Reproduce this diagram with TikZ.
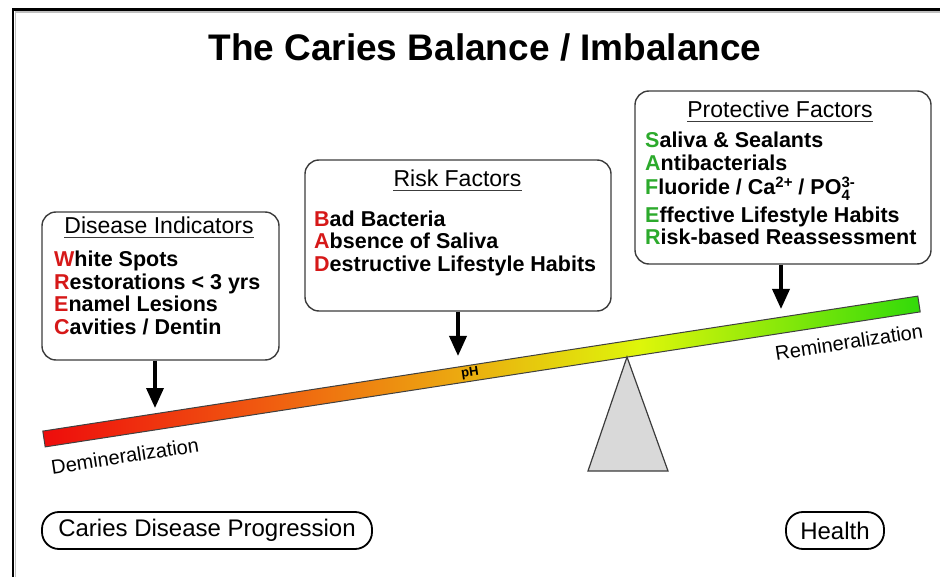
\documentclass[tikz,border=0pt]{standalone}
\usepackage{fontspec}
\setmainfont{Liberation Sans}
\usetikzlibrary{arrows.meta,calc}
\definecolor{redL}{RGB}{214,24,24}
\definecolor{grnL}{RGB}{44,170,44}
\definecolor{boxgray}{RGB}{60,60,60}
\definecolor{bA}{RGB}{238,12,12}
\definecolor{bB}{RGB}{240,90,16}
\definecolor{bC}{RGB}{236,168,16}
\definecolor{bD}{RGB}{222,246,10}
\definecolor{bE}{RGB}{50,218,10}
\pgfdeclarehorizontalshading{beamshade}{100bp}{color(0bp)=(bA); color(25bp)=(bA); color(37.5bp)=(bB); color(48.5bp)=(bC); color(59bp)=(bD); color(75bp)=(bE); color(100bp)=(bE)}
\newcommand{\itemfont}{\fontsize{21.5}{22.5}\selectfont\bfseries}
\newcommand{\headfont}{\fontsize{23}{25}\selectfont}
\newcommand{\smallsc}{\fontsize{15}{15}\selectfont}
\tikzset{
  infobox/.style={draw=boxgray, line width=1.4pt, rounded corners=14pt, fill=white, inner sep=0pt},
  item/.style={anchor=base west, inner sep=0pt, font=\itemfont},
  head/.style={anchor=base, inner sep=0pt, font=\headfont},
  uline/.style={line width=1.3pt, draw=boxgray},
  arr/.style={line width=3.5pt, -{Triangle[length=20pt,width=17pt]}},
  pill/.style={draw=black, line width=1.8pt, rounded corners=17pt, inner sep=0pt, font=\fontsize{24}{26}\selectfont},
  sidelab/.style={font=\fontsize{20}{22}\selectfont, rotate=8.77, inner sep=0pt},
}
\begin{document}
\begin{tikzpicture}[x=1pt,y=-1pt]
\useasboundingbox (0,0) rectangle (940,577);
\begin{scope}
\clip (0,0) rectangle (940,577);
% frame
\draw[line width=1.2pt, draw=gray!50] (15.5,600) -- (15.5,12) -- (960,12);
\draw[line width=2.6pt] (13,600) -- (13,9.5) -- (960,9.5);
\end{scope}

% title
\node[anchor=base, inner sep=0pt, font=\fontsize{37}{40}\selectfont\bfseries] (title) at (485,61) {The Caries Balance / Imbalance};

% boxes
\node[infobox, minimum width=237pt, minimum height=148pt] (dbox) at (160.5,286) {};
\node[infobox, minimum width=306pt, minimum height=151pt] (rbox) at (458,235.5) {};
\node[infobox, minimum width=296pt, minimum height=173pt] (pbox) at (783,177.5) {};

% disease indicators
\node[head] (dh) at (159,234) {Disease Indicators};
\draw[uline] ([yshift=-3.5pt]dh.base west) -- ([yshift=-3.5pt]dh.base east);
\node[item] (d1) at (54,267) {{\color{redL}W}hite Spots};
\node[item] (d2) at (54,289.5) {{\color{redL}R}estorations < 3 yrs};
\node[item] (d3) at (54,312) {{\color{redL}E}namel Lesions};
\node[item] (d4) at (54,334.5) {{\color{redL}C}avities / Dentin};

% risk factors
\node[head] (rh) at (457.5,187) {Risk Factors};
\draw[uline] ([yshift=-3.5pt]rh.base west) -- ([yshift=-3.5pt]rh.base east);
\node[item] (r1) at (314,226.5) {{\color{redL}B}ad Bacteria};
\node[item] (r2) at (314,249) {{\color{redL}A}bsence of Saliva};
\node[item] (r3) at (314,271.5) {{\color{redL}D}estructive Lifestyle Habits};

% protective factors
\node[head] (ph) at (780,118) {Protective Factors};
\draw[uline] ([yshift=-3.5pt]ph.base west) -- ([yshift=-3.5pt]ph.base east);
\node[item] (p1) at (645,148) {{\color{grnL}S}aliva \& Sealants};
\node[item] (p2) at (645,171) {{\color{grnL}A}ntibacterials};
\node[item] (p3) at (645,195) {{\color{grnL}F}luoride / Ca\raisebox{7pt}{\smallsc 2+} / PO\rlap{\raisebox{7.5pt}{\smallsc 3-}}\raisebox{-6pt}[0pt][0pt]{\smallsc 4}};
\node[item] (p4) at (645,222.5) {{\color{grnL}E}ffective Lifestyle Habits};
\node[item] (p5) at (645,244.5) {{\color{grnL}R}isk-based Reassessment};

% beam
\coordinate (bL) at (44,439);
\coordinate (bR) at (919,304);
\draw[shading=beamshade, draw=black!75, line width=1pt]
  (42.8,431.1) -- (917.8,296.1) -- (920.2,311.9) -- (45.2,446.9) -- cycle;
\node[font=\fontsize{13}{13}\selectfont\bfseries, rotate=8.77, inner sep=0pt] (pH) at (470,373.5) {pH};

% pivot
\node[inner sep=0pt] (apex) at (627,357) {};
\draw[fill=black!15, draw=boxgray, line width=1.2pt] (apex.center) -- (668,471) -- (588,471) -- cycle;

% arrows
\coordinate (dtip) at (155,408);
\coordinate (rtip) at (458,356);
\coordinate (ptip) at (781,309);
\draw[arr] (dbox.south -| dtip) -- (dtip);
\draw[arr] (rbox.south -| rtip) -- (rtip);
\draw[arr] (pbox.south -| ptip) -- (ptip);

% side labels
\node[sidelab] (demin) at (125,456) {Demineralization};
\node[sidelab] (remin) at (849,342) {Remineralization};

% bottom pills
\node[pill, minimum width=330pt, minimum height=37pt] (prog) at (207,530.5) {Caries Disease Progression};
\node[pill, minimum width=98pt, minimum height=37pt] (health) at (835,530.5) {Health};
\end{tikzpicture}
\end{document}
